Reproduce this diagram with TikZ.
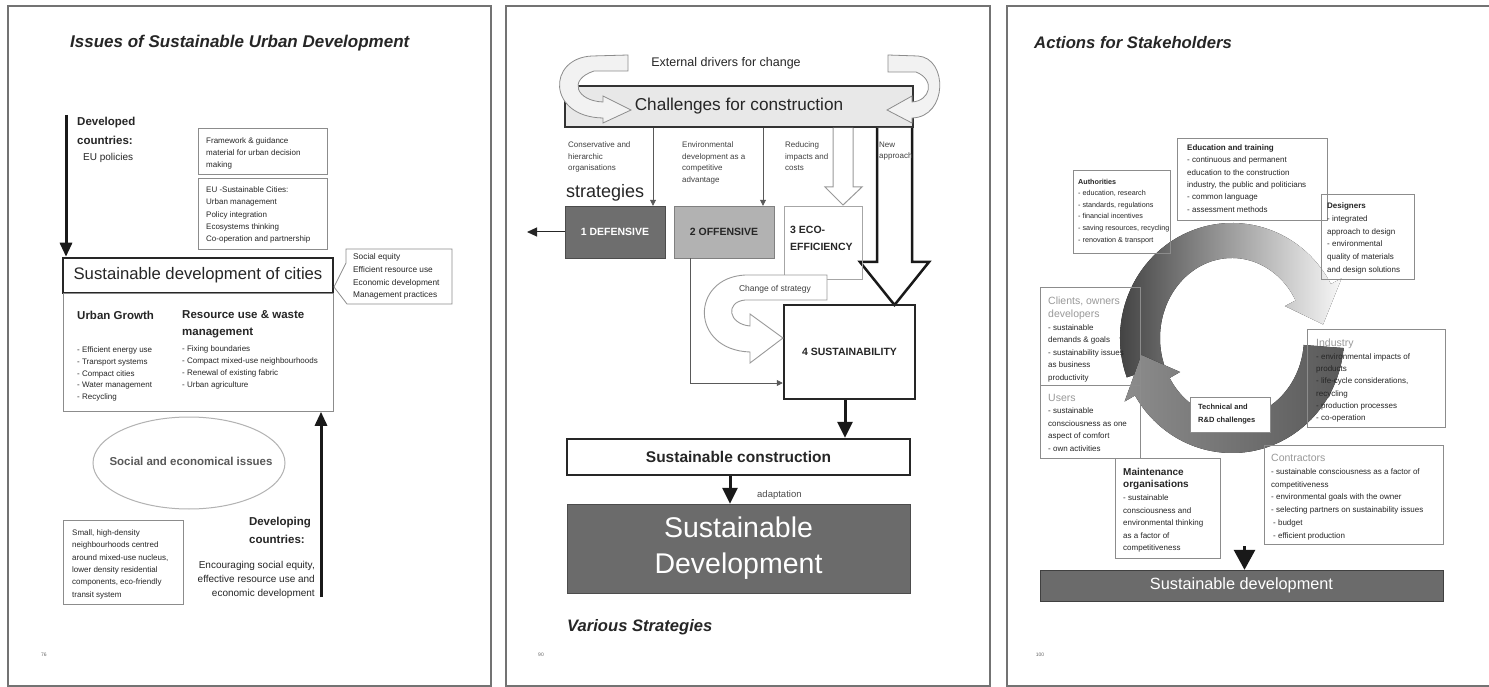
\documentclass[tikz,border=0pt]{standalone}
\usepackage{fontspec}
\setmainfont{Liberation Sans}
\usetikzlibrary{arrows.meta,shapes.geometric,calc}
\newcommand\hdr[1]{{\color{black!40}\fontsize{10.5}{12.6}\selectfont #1}}
\begin{document}
\begin{tikzpicture}[x=1pt,y=-1pt,
  every node/.style={inner sep=0pt, text=black!85},
  pframe/.style={draw=black!55, line width=1.5pt},
  bx/.style={draw=black!45, line width=0.8pt, anchor=north west, inner sep=0pt},
  tx/.style={anchor=north west, align=left, font=\fontsize{8}{12}\selectfont},
  bfb/.style={font=\fontsize{11.5}{16}\selectfont\bfseries},
  ttl/.style={font=\fontsize{17}{20}\selectfont\bfseries\itshape, anchor=west},
  thickarr/.style={line width=3pt, draw=black!90, -{Triangle[length=14pt,width=12pt]}},
  thickarrb/.style={line width=3pt, draw=black!90, -{Triangle[length=16pt,width=15pt]}},
  tharr/.style={line width=0.8pt, draw=black!65, -{Triangle[length=6pt,width=6pt]}},
  medarr/.style={line width=1pt, draw=black!85, -{Triangle[length=10pt,width=9pt]}},
  curv/.style={fill=black!5, draw=black!45, line width=0.8pt},
  pn/.style={font=\fontsize{5}{6}\selectfont, text=black!60}]
\useasboundingbox (0,0) rectangle (1489,687);
\fill[white] (0,0) rectangle (1489,687);

% ================= Panel 1 =================
\draw[pframe] (8,6) rectangle (491,686);
\node[ttl] (t1) at (70,43) {Issues of Sustainable Urban Development};
\node[bfb, anchor=west] (dev1a) at (77,123) {Developed};
\node[bfb, anchor=west] (dev1b) at (77,140) {countries:};
\node[font=\fontsize{10}{12}\selectfont, anchor=west] (dev1c) at (83,158) {EU policies};
\node[bx, minimum width=129, minimum height=46] (fw) at (198,128) {};
\node[tx] (fwt) at (206,137.6) {Framework \& guidance\\material for urban decision\\making};
\node[bx, minimum width=129, minimum height=71] (eu) at (198,178) {};
\node[tx, font=\fontsize{8}{12.3}\selectfont] (eut) at (206,186.6) {EU -Sustainable Cities:\\Urban management\\Policy integration\\Ecosystems thinking\\Co-operation and partnership};
\node[draw=black!85, line width=2.5pt, minimum width=270, minimum height=35, font=\fontsize{16.7}{20}\selectfont] (sdc) at (198,275.5) {Sustainable development of cities};
\draw[draw=black!45, line width=0.8pt] (346,249) -- (452,249) -- (452,304) -- (347,304) -- (334,287) -- (346,263) -- cycle;
\node[tx, font=\fontsize{8.3}{12.7}\selectfont] (cot) at (353,253.5) {Social equity\\Efficient resource use\\Economic development\\Management practices};
\node[bx, minimum width=270, minimum height=118] (ug) at (63,293) {};
\node[bfb, anchor=west] (ugh) at (77,315) {Urban Growth};
\node[tx, font=\fontsize{11.5}{17}\selectfont\bfseries] (ruh) at (182,310.2) {Resource use \& waste\\management};
\node[tx, font=\fontsize{8}{11.8}\selectfont] (ugl) at (77,346.6) {- Efficient energy use\\- Transport systems\\- Compact cities\\- Water management\\- Recycling};
\node[tx, font=\fontsize{8}{11.9}\selectfont] (rul) at (182,345.6) {- Fixing boundaries\\- Compact mixed-use neighbourhoods\\- Renewal of existing fabric\\- Urban agriculture};
\node[ellipse, draw=black!30, line width=1pt, minimum width=192, minimum height=92] (ell) at (189,463) {};
\node[font=\fontsize{11.5}{14}\selectfont\bfseries, text=black!65] (ellt) at (191,461) {Social and economical issues};
\node[bx, minimum width=120, minimum height=84] (sm) at (63,520) {};
\node[tx, font=\fontsize{8}{12.3}\selectfont] (smt) at (72,529.6) {Small, high-density\\neighbourhoods centred\\around mixed-use nucleus,\\lower density residential\\components, eco-friendly\\transit system};
\node[bfb] (dev2a) at (280,523) {Developing};
\node[bfb] (dev2b) at (277,539) {countries:};
\node[anchor=north east, align=right, font=\fontsize{10}{14}\selectfont] (enc) at (315,560.8) {Encouraging social equity,\\effective resource use and\\economic development};
\coordinate (dc0) at (66,115);
\draw[thickarr] (dc0) -- (dc0 |- sdc.north);
\coordinate (dv0) at (321,597);
\draw[thickarr] (dv0) -- (dv0 |- ug.south);
\node[pn] (p1) at (44,655) {76};

% ================= Panel 2 =================
\draw[pframe] (506,6) rectangle (990,686);
\node[font=\fontsize{12.5}{15}\selectfont] (ext) at (726,63) {External drivers for change};
\node[draw=black!80, line width=1.6pt, fill=black!9, minimum width=348, minimum height=41, font=\fontsize{17.2}{20}\selectfont] (ch) at (739,106.5) {Challenges for construction};
\draw[curv] (628,55) -- (592,56) .. controls (547,58) and (547,117) .. (603,118) -- (603,123) -- (631,110) -- (603,96) -- (603,102) .. controls (577,101) and (567,80) .. (594,71) -- (628,71) -- cycle;
\draw[curv] (888,55) -- (918,56) .. controls (948,58) and (948,117) .. (912,118) -- (912,123) -- (887,110) -- (912,96) -- (912,102) .. controls (930,101) and (936,80) .. (916,72) -- (888,72) -- cycle;
% hollow arrows
\draw[draw=black!40, fill=white, line width=1pt] (833,128) -- (833,187) -- (825,187) -- (843,205) -- (862,187) -- (853,187) -- (853,128);
\draw[draw=black!90, fill=white, line width=2.5pt, line join=miter] (877,128) -- (877,262) -- (860,262) -- (894.5,305) -- (929,262) -- (912,262) -- (912,128);
\node[tx, font=\fontsize{8}{11.5}\selectfont, text=black!75] (u1) at (568,141.6) {Conservative and\\hierarchic\\organisations};
\node[tx, font=\fontsize{8}{11.5}\selectfont, text=black!75] (u2) at (682,141.6) {Environmental\\development as a\\competitive\\advantage};
\node[tx, font=\fontsize{8}{11.5}\selectfont, text=black!75] (u3) at (785,141.6) {Reducing\\impacts and\\costs};
\node[tx, font=\fontsize{8}{11.5}\selectfont, text=black!75] (u4) at (879,141.6) {New\\approach};
\node[font=\fontsize{18}{20}\selectfont, anchor=west] (strat) at (566,193) {strategies};
\node[draw=black!70, fill=black!57, minimum width=100, minimum height=52, font=\fontsize{10.5}{12}\selectfont\bfseries, text=white] (def) at (615,232) {1 DEFENSIVE};
\node[draw=black!50, fill=black!30, minimum width=100, minimum height=52, font=\fontsize{10.5}{12}\selectfont\bfseries] (off) at (724,232) {2 OFFENSIVE};
\node[bx, draw=black!35, minimum width=78, minimum height=73] (eco) at (784,206) {};
\node[tx, font=\fontsize{10.5}{17}\selectfont\bfseries] (ecot) at (790,225.6) {3 ECO-\\EFFICIENCY};
\coordinate (d1) at (653,0);
\coordinate (d2) at (763,0);
\draw[tharr] (ch.south -| d1) -- (def.north -| d1);
\draw[tharr] (ch.south -| d2) -- (off.north -| d2);
\coordinate (dl) at (527,0);
\draw[medarr] (def.west) -- (def.west -| dl);
\node[draw=black!85, line width=2.5pt, minimum width=131, minimum height=94, font=\fontsize{10.5}{12}\selectfont\bfseries] (sus) at (849.5,352) {4 SUSTAINABILITY};
\draw[draw=black!40, fill=white, line width=0.9pt] (827,275) -- (745,275) .. controls (690,278) and (690,350) .. (750,352) -- (750,363) -- (783,338) -- (750,314) -- (750,326) .. controls (728,324) and (725,302) .. (745,300) -- (827,300) -- cycle;
\node[font=\fontsize{8.5}{10}\selectfont, text=black!75] (cst) at (775,289) {Change of strategy};
\coordinate (o1) at (690,383);
\draw[tharr] (off.south -| o1) -- (o1) -- (o1 -| sus.west);
\node[draw=black!85, line width=2.5pt, minimum width=343, minimum height=36, font=\fontsize{15.5}{18}\selectfont\bfseries] (sc) at (738.5,457) {Sustainable construction};
\coordinate (s1) at (845,0);
\draw[thickarrb] (sus.south -| s1) -- (sc.north -| s1);
\node[draw=black!70, fill=black!58, minimum width=343, minimum height=89, align=center, font=\fontsize{28.5}{36}\selectfont, text=white] (sd) at (738.5,548.5) {Sustainable\\Development};
\coordinate (s2) at (730,0);
\draw[thickarrb] (sc.south -| s2) -- (sd.north -| s2);
\node[font=\fontsize{9.5}{11}\selectfont, text=black!70, anchor=west] (adp) at (757,495) {adaptation};
\node[ttl, font=\fontsize{16.6}{20}\selectfont\bfseries\itshape] (t2) at (567,627) {Various Strategies};
\node[pn] (p2) at (541,655) {90};

% ================= Panel 3 =================
\draw[pframe] (1489,686) -- (1007,686) -- (1007,6) -- (1489,6);
\node[ttl, font=\fontsize{16.7}{20}\selectfont\bfseries\itshape] (t3) at (1034,43) {Actions for Stakeholders};
\coordinate (rc) at (1232,338);
\fill[left color=black!78, right color=black!3]
  ($(rc)+(160:112 and 115)$) arc[start angle=160, end angle=332, x radius=112, y radius=115]
  -- ($(rc)+(332:124 and 127)$) -- ($(rc)+(352:92 and 97.5)$) -- ($(rc)+(332:60 and 68)$)
  -- ($(rc)+(332:72 and 80)$) arc[start angle=332, end angle=160, x radius=72, y radius=80] -- cycle;
\fill[left color=black!45, right color=black!65]
  ($(rc)+(5:112 and 115)$) arc[start angle=5, end angle=150, x radius=112, y radius=115]
  -- ($(rc)+(150:124 and 127)$) -- ($(rc)+(170:92 and 97.5)$) -- ($(rc)+(150:60 and 68)$)
  -- ($(rc)+(150:72 and 80)$) arc[start angle=150, end angle=5, x radius=72, y radius=80] -- cycle;
\node[bx, minimum width=97, minimum height=83] (auth) at (1073,170) {};
\node[tx, font=\fontsize{7.2}{11.6}\selectfont] (autht) at (1078,178.6) {\textbf{Authorities}\\- education, research\\- standards, regulations\\- financial incentives\\- saving resources, recycling\\- renovation \& transport};
\node[bx, minimum width=150, minimum height=82] (edu) at (1177,138) {};
\node[tx, font=\fontsize{8}{12.3}\selectfont] (edut) at (1187,144.6) {\textbf{Education and training}\\- continuous and permanent\\education to the construction\\industry, the public and politicians\\- common language\\- assessment methods};
\node[bx, minimum width=93, minimum height=85] (des) at (1321,194) {};
\node[tx, font=\fontsize{8}{12.8}\selectfont] (dest) at (1327,202.6) {\textbf{Designers}\\- integrated\\approach to design\\- environmental\\quality of materials\\and design solutions};
\node[bx, minimum width=100, minimum height=98] (cli) at (1040,287) {};
\node[tx, font=\fontsize{8}{12.6}\selectfont] (clit) at (1048,297) {\hdr{Clients, owners}\\\hdr{developers}\\- sustainable\\demands \& goals\\- sustainability issues\\as business\\productivity};
\node[bx, minimum width=100, minimum height=73] (usr) at (1040,385) {};
\node[tx, font=\fontsize{8}{12.5}\selectfont] (usrt) at (1048,394) {\hdr{Users}\\- sustainable\\consciousness as one\\aspect of comfort\\- own activities};
\node[bx, minimum width=138, minimum height=98] (ind) at (1307,329) {};
\node[tx, font=\fontsize{8}{12.3}\selectfont] (indt) at (1316,339) {\hdr{Industry}\\- environmental impacts of\\products\\- life-cycle considerations,\\recycling\\- production processes\\- co-operation};
\node[bx, fill=white, minimum width=80, minimum height=35] (tech) at (1190,397) {};
\node[tx, font=\fontsize{7.5}{13}\selectfont\bfseries] (techt) at (1198,403.8) {Technical and\\R\&D challenges};
\node[bx, minimum width=179, minimum height=99] (con) at (1264,445) {};
\node[tx, font=\fontsize{8}{12.8}\selectfont] (cont) at (1271,454) {\hdr{Contractors}\\- sustainable consciousness as a factor of\\competitiveness\\- environmental goals with the owner\\- selecting partners on sustainability issues\\\hspace{2pt}- budget\\\hspace{2pt}- efficient production};
\node[bx, minimum width=105, minimum height=100] (mnt) at (1115,458) {};
\node[tx, font=\fontsize{8}{12.6}\selectfont] (mntt) at (1123,467.8) {{\bfseries\fontsize{10}{12.6}\selectfont Maintenance}\\{\bfseries\fontsize{10}{12.6}\selectfont organisations}\\- sustainable\\consciousness and\\environmental thinking\\as a factor of\\competitiveness};
\node[draw=black!75, fill=black!58, minimum width=403, minimum height=31, font=\fontsize{16.3}{18}\selectfont, text=white] (sdb) at (1241.5,585.5) {Sustainable development};
\coordinate (a3) at (1244.5,546);
\draw[line width=3pt, draw=black!90, -{Triangle[length=20pt,width=21pt]}] (a3) -- (a3 |- sdb.north);
\node[pn] (p3) at (1040,655) {100};
\end{tikzpicture}
\end{document}
